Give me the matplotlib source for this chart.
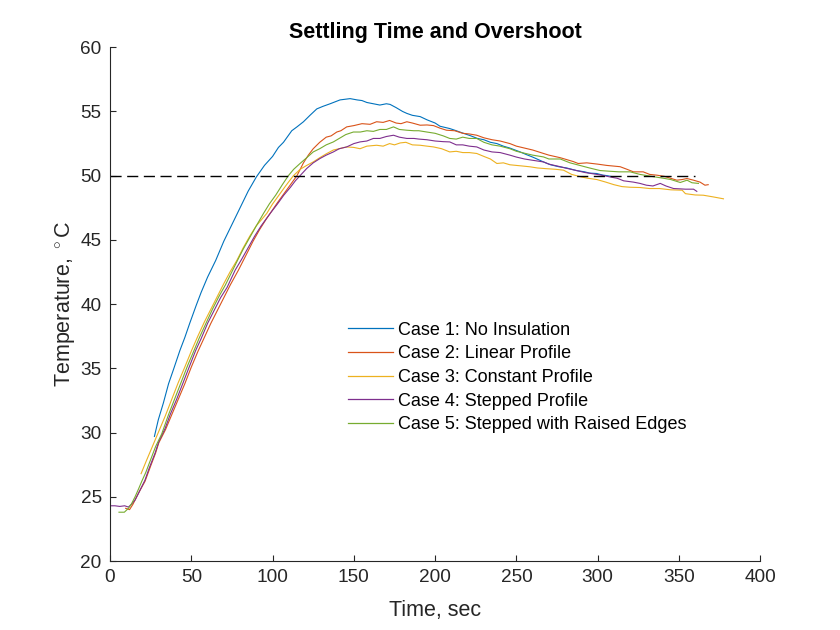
import numpy as np
import matplotlib
matplotlib.use("Agg")
import matplotlib.pyplot as plt

# readings (time in s, temperature in deg C)
t1 = [27.3, 29.7, 32.8, 36, 39, 43, 46, 49, 53, 56, 60, 65, 70, 75, 80, 85, 90, 95,
      100, 103.6, 106.7, 111.8, 115, 119, 123, 127.2, 131, 135.4, 141.5, 147.7, 152, 155,
      158, 162, 166, 170, 172.3, 176, 180, 182.6, 186, 190.8, 195, 200, 203, 209, 213,
      217.4, 222, 226, 230, 234, 238, 242, 246, 252.3, 256, 260, 266.7, 271, 276, 281,
      287, 292, 295, 299.5, 303, 306, 308]
T1 = [29.7, 31.0, 32.3, 33.8, 34.9, 36.4, 37.4, 38.5, 39.9, 40.9, 42.1, 43.4, 44.9, 46.2,
      47.5, 48.8, 49.9, 50.8, 51.5, 52.2, 52.6, 53.5, 53.8, 54.2, 54.7, 55.2, 55.4, 55.6,
      55.9, 56.0, 55.9, 55.85, 55.7, 55.6, 55.5, 55.6, 55.55, 55.3, 55.0, 54.85, 54.7,
      54.6, 54.35, 54.1, 53.85, 53.67, 53.5, 53.3, 53.1, 52.9, 52.8, 52.6, 52.5, 52.3,
      52.15, 51.85, 51.65, 51.45, 51.07, 50.85, 50.7, 50.6, 50.4, 50.3, 50.2, 50.17,
      50.05, 50.0, 49.95]

t2 = [9.6, 12, 14, 15.4, 18, 21.5, 25, 28, 30, 34.2, 38, 42, 46, 50, 54, 58, 62, 66, 70,
      74, 79, 84, 88, 92, 96, 98.5, 103, 107, 111, 115, 119, 122, 125, 129, 133, 136,
      139.5, 142, 145.6, 150, 155, 160, 164, 168, 172, 176, 179, 182.6, 186, 190.8, 195,
      199, 203, 207, 212, 217, 221, 225.6, 230, 235, 240, 246, 250, 255, 260, 266.7, 270,
      277, 285, 288, 293.3, 300, 305.6, 313.8, 318, 322, 328, 332, 336.4, 341, 348.7,
      352, 354.9, 359, 363, 366, 368]
T2 = [24.1, 24.0, 24.4, 24.75, 25.4, 26.2, 27.4, 28.4, 29.2, 30.25, 31.4, 32.6, 33.8,
      35.1, 36.3, 37.4, 38.5, 39.5, 40.5, 41.5, 42.65, 43.9, 44.9, 45.8, 46.6, 47.06,
      47.9, 48.6, 49.3, 50.0, 51.0, 51.6, 52.1, 52.6, 53.0, 53.1, 53.4, 53.5, 53.8, 53.9,
      54.05, 54.0, 54.2, 54.15, 54.3, 54.1, 54.05, 54.2, 54.1, 53.93, 53.95, 53.9, 53.7,
      53.54, 53.5, 53.3, 53.25, 53.15, 52.95, 52.8, 52.7, 52.5, 52.3, 52.15, 52.0, 51.73,
      51.6, 51.4, 51.1, 50.95, 51.0, 50.9, 50.8, 50.7, 50.5, 50.3, 50.3, 50.1, 50.04,
      49.95, 49.65, 49.7, 49.78, 49.65, 49.5, 49.26, 49.3]

t3 = [19.1, 22, 25, 28, 31, 34, 38, 42, 46, 50.2, 54, 58, 62, 66, 70, 73.8, 78, 82, 86,
      90, 96.4, 100, 104, 108, 112.8, 117, 121, 125, 129, 133, 137.4, 141, 145.6, 150,
      153.8, 158, 164, 168, 172, 175, 178.5, 182, 186, 190.8, 195, 199, 204, 209, 213,
      217, 221, 225.6, 230, 234, 238, 242, 246, 250, 254, 258.5, 263, 268, 274, 279, 284,
      290, 294, 299.5, 305, 310, 315, 320, 326, 332, 338, 345, 352, 354, 360, 365, 371,
      377.4]
T3 = [26.8, 27.7, 28.6, 29.5, 30.4, 31.3, 32.6, 33.9, 35.1, 36.4, 37.5, 38.6, 39.6, 40.6,
      41.6, 42.5, 43.4, 44.4, 45.3, 46.1, 47.06, 47.8, 48.5, 49.2, 50.0, 50.5, 50.8, 51.07,
      51.4, 51.7, 52.0, 52.1, 52.24, 52.2, 52.1, 52.3, 52.37, 52.3, 52.5, 52.4, 52.55,
      52.6, 52.4, 52.37, 52.3, 52.24, 52.1, 51.85, 51.9, 51.8, 51.8, 51.73, 51.5, 51.3,
      50.95, 51.0, 50.85, 50.8, 50.75, 50.69, 50.6, 50.55, 50.5, 50.43, 50.1, 49.9, 49.8,
      49.7, 49.5, 49.3, 49.15, 49.1, 49.08, 49.0, 49.0, 48.9, 48.87, 48.6, 48.5, 48.48,
      48.35, 48.2]

t4 = [0, 3, 6, 9, 11.3, 13, 15.4, 18, 21.5, 24, 27.7, 30, 33.8, 37, 41, 45, 49, 52.7, 56,
      60, 64, 68, 72, 77, 81, 85, 89, 93, 98.5, 103, 107, 111, 114, 116.9, 121, 125,
      129.2, 133, 137.4, 141, 145.6, 150, 153.8, 158, 162, 166, 170, 174.4, 178, 182.6,
      187, 190, 194.9, 200, 205, 209, 213, 217, 221, 225.6, 230, 235, 240, 246, 250, 255,
      260, 266.7, 270, 277, 280, 287, 292, 297, 302, 307.7, 312, 316, 322, 326, 330,
      334, 338.5, 342, 346.7, 350, 354, 359, 361]
T4 = [24.3, 24.3, 24.25, 24.3, 24.2, 24.4, 24.75, 25.4, 26.3, 27.2, 28.4, 29.3, 30.3,
      31.4, 32.6, 33.9, 35.2, 36.4, 37.3, 38.5, 39.5, 40.5, 41.3, 42.65, 43.5, 44.4, 45.3,
      46.1, 47.06, 47.8, 48.5, 49.1, 49.6, 50.0, 50.56, 51.0, 51.34, 51.6, 51.85, 52.1,
      52.24, 52.5, 52.63, 52.7, 52.9, 52.9, 53.05, 53.15, 53.0, 52.9, 52.9, 52.85, 52.8,
      52.7, 52.65, 52.63, 52.4, 52.4, 52.3, 52.24, 52.0, 51.85, 51.8, 51.6, 51.45, 51.3,
      51.2, 51.07, 50.9, 50.7, 50.6, 50.4, 50.25, 50.15, 50.05, 49.9, 49.8, 49.6, 49.5,
      49.4, 49.26, 49.2, 49.4, 49.2, 49.0, 48.98, 48.95, 48.95, 48.78]

t5 = [5.5, 8.8, 11.3, 13, 15.4, 17.5, 19.5, 22, 25.6, 28, 31.8, 36, 40, 44, 48, 51.7, 55,
      59, 63, 67, 71, 74.5, 78, 82, 86, 90, 94.4, 98, 102, 106, 109.7, 113, 116.9, 121,
      125, 129, 133, 137.4, 141, 145, 149.7, 154, 158, 162, 166, 170, 174.4, 178, 182.6,
      187, 190, 194.9, 200, 205, 209, 213, 217, 221, 225.6, 230, 235, 240, 246, 250, 255,
      260, 266.7, 270, 277, 283, 289, 295, 301.5, 307, 313, 320, 326, 333, 340.5, 345,
      350.8, 355, 358, 362]
T5 = [23.8, 23.8, 24.1, 24.4, 25.0, 25.6, 26.2, 26.9, 28.1, 28.9, 29.9, 31.4, 32.7, 34.0,
      35.3, 36.4, 37.4, 38.5, 39.6, 40.6, 41.5, 42.4, 43.3, 44.3, 45.2, 46.1, 47.06, 47.8,
      48.5, 49.3, 50.0, 50.5, 50.95, 51.4, 51.85, 52.1, 52.4, 52.63, 52.9, 53.2, 53.4,
      53.4, 53.5, 53.45, 53.6, 53.6, 53.8, 53.6, 53.54, 53.5, 53.5, 53.4, 53.3, 53.1,
      52.9, 52.85, 53.0, 52.9, 52.9, 52.6, 52.4, 52.3, 52.1, 51.9, 51.75, 51.6, 51.46,
      51.3, 51.3, 51.0, 50.8, 50.6, 50.4, 50.35, 50.3, 50.3, 50.1, 49.95, 49.8, 49.7,
      49.47, 49.65, 49.45, 49.4]

labels = ["Case 1: No Insulation", "Case 2: Linear Profile", "Case 3: Constant Profile",
          "Case 4: Stepped Profile", "Case 5: Stepped with Raised Edges"]
colors = ["#0072BD", "#D95319", "#EDB120", "#7E2F8E", "#77AC30"]
target = 50
target_span = [0, 360]

plt.rcParams["font.family"] = ["Liberation Sans", "DejaVu Sans"]
plt.rcParams["mathtext.fontset"] = "custom"
plt.rcParams["mathtext.rm"] = "Liberation Sans"

fig = plt.figure(figsize=(8.4, 6.3), dpi=100)
ax = fig.add_axes([0.131, 0.1095, 0.774, 0.8155])

series = [(t1, T1), (t2, T2), (t3, T3), (t4, T4), (t5, T5)]
for (t, T), lab, c in zip(series, labels, colors):
    ax.plot(t, T, color=c, lw=0.8, label=lab)
ax.plot(target_span, [target, target], color="k", lw=1.0, dashes=(8, 4))

ax.set_xlim(0, 400)
ax.set_ylim(20, 60)
ax.set_xticks(np.arange(0, 401, 50))
ax.set_yticks(np.arange(20, 61, 5))
for s in ["top", "right"]:
    ax.spines[s].set_visible(False)
for s in ["left", "bottom"]:
    ax.spines[s].set_color("#262626")
    ax.spines[s].set_linewidth(0.8)
ax.tick_params(direction="in", length=4, width=0.8, colors="#262626",
               labelsize=13.7, pad=6)

ax.set_xlabel("Time, sec", fontsize=15.5, color="#262626", labelpad=10)
ax.set_ylabel(r"Temperature, $^\circ$C", fontsize=15.5, color="#262626", labelpad=2)
ax.set_title("Settling Time and Overshoot", fontsize=15.5, fontweight="bold", pad=7)

leg = ax.legend(loc="upper left", bbox_to_anchor=(0.366, 0.466), frameon=False,
                fontsize=13, handlelength=2.5, handletextpad=0.28,
                labelspacing=0.37, borderpad=0, borderaxespad=0)
for line in leg.get_lines():
    line.set_linewidth(0.9)

fig.savefig("out.png", dpi=100)
